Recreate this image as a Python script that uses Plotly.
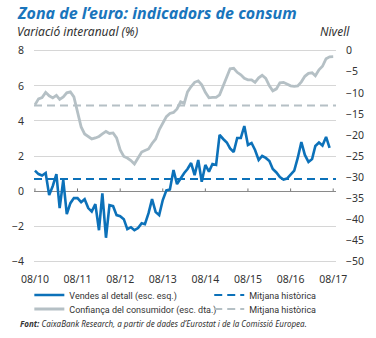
import plotly.graph_objects as go
import pandas as pd

# ---- data ----
months = pd.date_range("2010-08-01", "2017-08-01", freq="MS")

retail_sales = [1.17, 0.97, 0.89, 1.03, -0.23, 0.29, 0.97, -0.97, 0.63, -1.31,
                -0.69, -0.40, -0.40, -0.63, -0.46, -0.97, -1.17, -0.74, -2.23, -0.13,
                -2.66, -0.80, -0.86, -1.37, -1.43, -1.60, -2.17, -2.06, -2.23, -2.11,
                -1.83, -1.89, -1.26, -0.46, -1.20, -1.37, -0.51, 0.04, 0.09, 1.20,
                0.40, 0.74, 1.03, 1.26, 1.60, 0.91, 1.77, 0.53, 1.49, 1.11,
                1.54, 1.49, 3.20, 2.97, 2.77, 2.43, 2.23, 3.03, 3.03, 3.71,
                2.63, 2.74, 2.34, 1.77, 2.00, 1.89, 1.71, 1.26, 1.06, 0.80,
                0.66, 0.71, 0.97, 1.17, 1.89, 2.80, 2.06, 1.66, 1.83, 2.57,
                2.77, 2.60, 3.09, 2.46]

consumer_conf = [-12.86, -11.43, -11.12, -9.88, -10.71, -11.19, -10.60, -11.55, -10.95, -10.00,
                 -9.76, -10.95, -14.52, -18.10, -19.76, -20.48, -20.95, -20.71, -20.36, -19.76,
                 -19.17, -19.64, -19.52, -20.71, -23.57, -25.12, -25.48, -26.07, -26.90, -25.48,
                 -24.05, -23.69, -23.33, -22.02, -20.95, -18.81, -17.14, -15.64, -14.88, -14.64,
                 -13.81, -12.14, -12.50, -9.76, -8.50, -7.50, -7.14, -8.10, -9.88, -11.19,
                 -11.07, -11.07, -10.48, -8.21, -5.95, -4.29, -4.17, -5.12, -5.71, -6.55,
                 -6.90, -6.90, -7.50, -6.43, -5.83, -6.55, -8.33, -9.52, -9.05, -7.62,
                 -7.50, -7.98, -8.33, -8.45, -8.33, -7.38, -6.07, -5.36, -5.24, -5.95,
                 -4.52, -3.69, -1.90, -1.43, -1.40]

retail_avg = 0.69
conf_avg = -13.0

tick_dates = pd.date_range("2010-08-01", "2017-08-01", freq="12MS")
tick_labels = ["08/10", "08/11", "08/12", "08/13", "08/14", "08/15", "08/16", "08/17"]

left_ticks = [-4, -2, 0, 2, 4, 6, 8]
right_ticks = [-50, -45, -40, -35, -30, -25, -20, -15, -10, -5, 0]

BLUE = "#0c71b9"
GREY = "#b5c0c5"
TXT = "#333333"
FONT = "Noto Sans"
LFONT = "Roboto"

x_range = [pd.Timestamp("2010-07-24"), pd.Timestamp("2017-08-25")]

fig = go.Figure()

fig.add_trace(go.Scatter(x=months[:len(retail_sales)], y=retail_sales, mode="lines",
                         line=dict(color=BLUE, width=2.6), name="Vendes al detall (esc. esq.)",
                         legend="legend"))
fig.add_trace(go.Scatter(x=[x_range[0], x_range[1]], y=[retail_avg, retail_avg], mode="lines",
                         line=dict(color=BLUE, width=2, dash="8px,5px"), name="Mitjana històrica",
                         legend="legend2"))
fig.add_trace(go.Scatter(x=months[:len(consumer_conf)], y=consumer_conf, mode="lines",
                         line=dict(color=GREY, width=2.8), name="Confiança del consumidor (esc. dta.)",
                         yaxis="y2", legend="legend3"))
fig.add_trace(go.Scatter(x=[x_range[0], x_range[1]], y=[conf_avg, conf_avg], mode="lines",
                         line=dict(color=GREY, width=2, dash="8px,5px"), name="Mitjana històrica",
                         yaxis="y2", legend="legend4"))

# small tick marks on the zero line
for d in tick_dates:
    fig.add_shape(type="line", xref="x", yref="y", x0=d, x1=d, y0=0, y1=0.15,
                  line=dict(color="#777777", width=1))

yr = [-4.1, 8.1]
y2r = [(v - 8) * 50 / 12 for v in yr]

W, H = 376, 338
L, R, T, B = 23, 29, 49, 75
PW, PH = W - L - R, H - T - B


def px(xp):
    return (xp - L) / PW


def py(yp):
    return (H - B - yp) / PH


legend_common = dict(orientation="h", font=dict(family=LFONT, size=9, color=TXT),
                     bgcolor="rgba(0,0,0,0)", itemwidth=30,
                     xanchor="left", yanchor="middle")

fig.update_layout(
    width=W, height=H,
    margin=dict(l=L, r=R, t=T, b=B),
    paper_bgcolor="white", plot_bgcolor="white",
    font=dict(family=FONT, size=10.5, color=TXT),
    showlegend=True,
    legend=dict(x=px(18), y=py(295), **legend_common),
    legend2=dict(x=px(211), y=py(295), **legend_common),
    legend3=dict(x=px(18), y=py(309), **legend_common),
    legend4=dict(x=px(211), y=py(309), **legend_common),
    xaxis=dict(type="date", range=x_range, tickvals=list(tick_dates), ticktext=tick_labels,
               showgrid=False, zeroline=False, showline=False, ticks="",
               ticklabelstandoff=8,
               tickfont=dict(family=FONT, size=10.5, color=TXT)),
    yaxis=dict(range=yr, tickvals=left_ticks, showgrid=True, gridcolor="#d6d6d6", gridwidth=1,
               zeroline=True, zerolinecolor="#8a8a8a", zerolinewidth=1, ticks="",
               ticklabelstandoff=9, tickfont=dict(family=FONT, size=10.5, color=TXT)),
    yaxis2=dict(range=y2r, tickvals=right_ticks, overlaying="y", side="right", showgrid=False,
                zeroline=False, ticks="", ticklabelstandoff=9,
                tickfont=dict(family=FONT, size=10.5, color=TXT)),
)

fig.add_annotation(xref="paper", yref="paper", x=px(3), y=py(13), xanchor="left", yanchor="middle",
                   text="<b><i>Zona de l’euro: indicadors de consum</i></b>", showarrow=False,
                   font=dict(family=FONT, size=16, color="#1a75bc"))
fig.add_annotation(xref="paper", yref="paper", x=px(3), y=py(32), xanchor="left", yanchor="middle",
                   text="<i>Variació interanual (%)</i>", showarrow=False,
                   font=dict(family=FONT, size=12, color=TXT))
fig.add_annotation(xref="paper", yref="paper", x=px(364), y=py(32), xanchor="right", yanchor="middle",
                   text="<i>Nivell</i>", showarrow=False,
                   font=dict(family=FONT, size=12, color=TXT))
fig.add_annotation(xref="paper", yref="paper", x=px(6), y=py(323), xanchor="left", yanchor="middle",
                   text="<b><i>Font:</i></b><i> CaixaBank Research, a partir de dades d’Eurostat i de la Comissió Europea.</i>",
                   showarrow=False, font=dict(family=FONT, size=8, color=TXT))

fig.write_html("out.html")
